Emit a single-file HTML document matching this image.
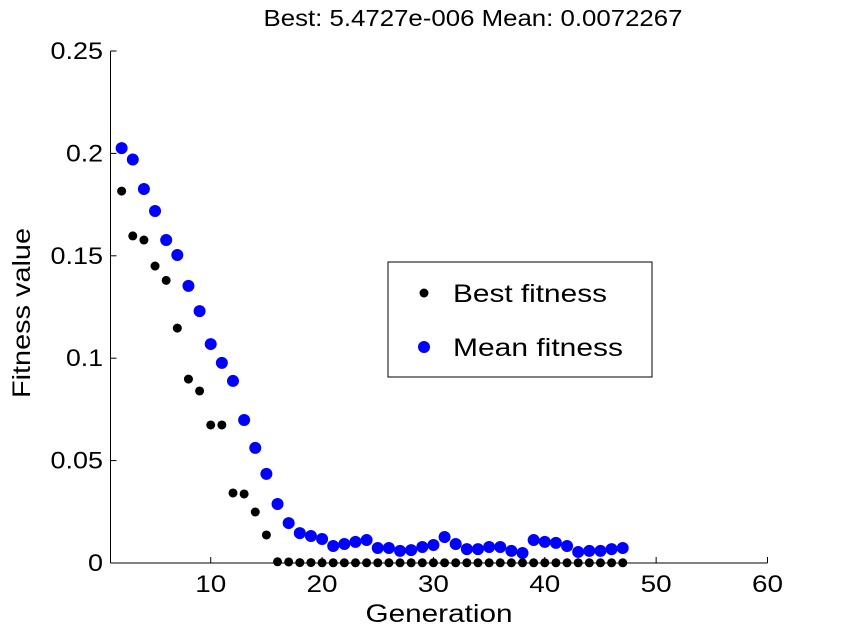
<!DOCTYPE html>
<html><head><meta charset="utf-8">
<style>
body{margin:0;background:#fff;}
svg{display:block;font-family:"Liberation Sans",Arial,sans-serif;}
</style></head>
<body>
<svg id="chart" width="850" height="636" viewBox="0 0 850 636">
<text x="473" y="26" font-size="23" text-anchor="middle" textLength="419" lengthAdjust="spacingAndGlyphs">Best: 5.4727e-006 Mean: 0.0072267</text>
<g id="axes"></g>
<g id="marks"></g>
<text x="439" y="622" font-size="25" text-anchor="middle" textLength="147" lengthAdjust="spacingAndGlyphs">Generation</text>
<text transform="translate(30,313) rotate(-90)" font-size="25" text-anchor="middle" textLength="170" lengthAdjust="spacingAndGlyphs">Fitness value</text>
<g>
<rect x="388" y="262" width="264" height="115" fill="#fff" stroke="#000" stroke-width="1"/>
<circle cx="424" cy="293" r="4.5" fill="#000"/>
<text x="453" y="302" font-size="25" textLength="154" lengthAdjust="spacingAndGlyphs">Best fitness</text>
<circle cx="424" cy="347" r="6" fill="#0000ff"/>
<text x="453" y="356" font-size="25" textLength="170" lengthAdjust="spacingAndGlyphs">Mean fitness</text>
</g>
</svg>
<script>
const generations = [2,3,4,5,6,7,8,9,10,11,12,13,14,15,16,17,18,19,20,21,22,23,24,25,26,27,28,29,30,31,32,33,34,35,36,37,38,39,40,41,42,43,44,45,46,47];
const bestValues = [0.1816,0.1597,0.1577,0.145,0.138,0.1147,0.0898,0.084,0.0674,0.0674,0.0342,0.0337,0.0249,0.0137,0.0006,0.0005,0.0002,0.0002,0.0001,0.0001,0.0001,0.0001,0.0001,0.0001,0.0001,0.0001,0.0001,0.0001,0.0001,0.0001,0.0001,0.0001,0.0001,0.0001,0.0001,0.0001,0.0001,0.0001,0.0001,0.0001,0.0001,0.0001,0.0001,0.0001,0.0001,0.0001];
const meanValues = [0.2026,0.197,0.1826,0.1719,0.1577,0.1504,0.1353,0.123,0.1069,0.0977,0.0889,0.0698,0.0562,0.0435,0.0288,0.0195,0.0146,0.0132,0.0117,0.0083,0.0093,0.0103,0.0112,0.0073,0.0073,0.0059,0.0063,0.0078,0.0088,0.0127,0.0093,0.0068,0.0068,0.0078,0.0078,0.0059,0.0049,0.0112,0.0103,0.0098,0.0083,0.0054,0.0059,0.0059,0.0068,0.0073];
const xTicks = [10,20,30,40,50,60];
const yTicks = [0,0.05,0.1,0.15,0.2,0.25];
const yTickLabels = ["0","0.05","0.1","0.15","0.2","0.25"];

const NS="http://www.w3.org/2000/svg";
const X0=110.5,X1=767.5,Y0=563,Y1=51,XMIN=1,XMAX=60,YMIN=0,YMAX=0.25;
function xs(v){return X0+(v-XMIN)/(XMAX-XMIN)*(X1-X0);}
function ys(v){return Y0-(v-YMIN)/(YMAX-YMIN)*(Y0-Y1);}
function mk(t,a,p){const e=document.createElementNS(NS,t);for(const k in a)e.setAttribute(k,a[k]);p.appendChild(e);return e;}
const ax=document.getElementById('axes'), mg=document.getElementById('marks');
let l=mk('line',{x1:X0,y1:Y0,x2:X1,y2:Y0,stroke:'#000'},ax);


l=mk('line',{x1:X0,y1:Y0,x2:X0,y2:Y1,stroke:'#000'},ax);


xTicks.forEach(v=>{
  const x=xs(v);
  mk('line',{x1:x,y1:Y0,x2:x,y2:Y0-6,stroke:'#000'},ax);
  const t=mk('text',{x:x,y:592,'font-size':24,'text-anchor':'middle',textLength:String(v).length*15.5,lengthAdjust:'spacingAndGlyphs'},ax);
  t.textContent=v;
  
  
});
yTicks.forEach((v,i)=>{
  const y=ys(v);
  mk('line',{x1:X0,y1:y,x2:X0+6,y2:y,stroke:'#000'},ax);
  const s=yTickLabels[i];
  const w=s.length===1?15:(s.length-1)*15.5+6;
  const t=mk('text',{x:103,y:y+8,'font-size':24,'text-anchor':'end',textLength:w,lengthAdjust:'spacingAndGlyphs'},ax);
  t.textContent=s;
  
  
});
generations.forEach((g,i)=>{
  const c=mk('circle',{cx:xs(g),cy:ys(meanValues[i]),r:6,fill:'#0000ff'},mg);
  
  
});
generations.forEach((g,i)=>{
  const c=mk('circle',{cx:xs(g),cy:ys(bestValues[i]),r:4.5,fill:'#000'},mg);
  
  
});
</script>
</body></html>
